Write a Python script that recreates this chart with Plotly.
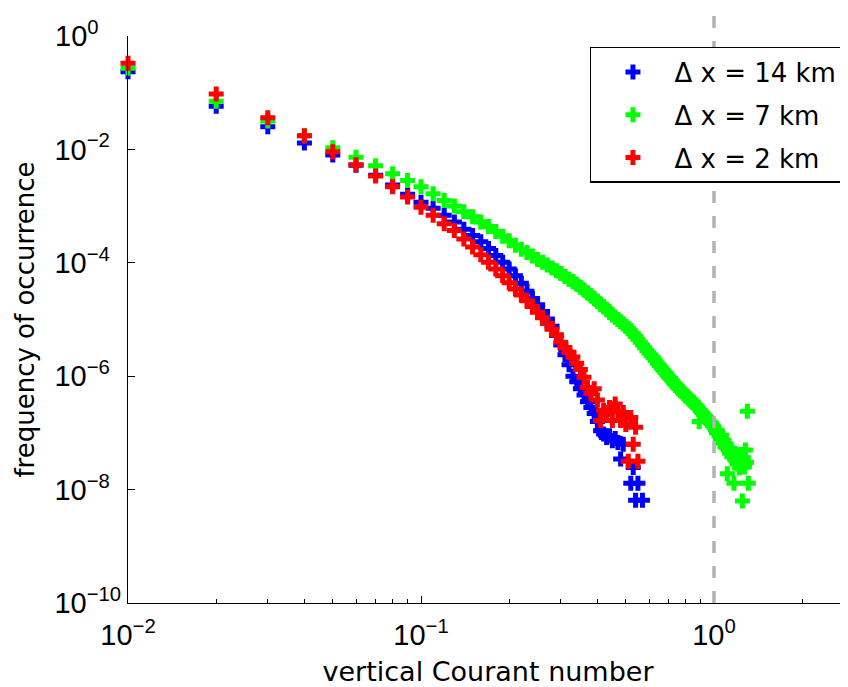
import plotly.graph_objects as go

# Courant-number bins (bin width 0.01)
courant_bins = [round(0.01 * k, 2) for k in range(1, 132)]

# log10(frequency of occurrence) (None = empty bin)
log_freq_14km = [
    -0.63, -1.24, -1.60, -1.885, -2.10, -2.28, -2.455, -2.63, -2.79, -2.93,
    -3.04, -3.16, -3.28, -3.41, -3.52, -3.63, -3.75, -3.87, -3.99, -4.11,
    -4.23, -4.36, -4.50, -4.63, -4.74, -4.86, -4.99, -5.12, -5.28, -5.45,
    -5.62, -5.80, -6.00, -6.10, -6.22, -6.33, -6.45, -6.55, -6.66, -6.80,
    -6.96, -7.02, -7.08, -7.05, -7.14, -7.10, -7.17, -7.46, -7.20, None,
    None, -7.89, -7.61, -8.19, -7.89, None, -8.19,
]

log_freq_7km = [
    -0.57, -1.15, -1.50, -1.76, -1.97, -2.14, -2.29, -2.43, -2.55, -2.66,
    -2.78, -2.90, -3.00, -3.10, -3.19, -3.28, -3.36, -3.45, -3.53, -3.61,
    -3.69, -3.76, -3.82, -3.88, -3.94, -3.99, -4.04, -4.09, -4.14, -4.19,
    -4.24, -4.29, -4.33, -4.38, -4.43, -4.48, -4.53, -4.58, -4.63, -4.68,
    -4.73, -4.77, -4.82, -4.87, -4.92, -4.96, -5.00, -5.04, -5.08, -5.12,
    -5.16, -5.20, -5.25, -5.30, -5.35, -5.40, -5.45, -5.50, -5.55, -5.59,
    -5.63, -5.67, -5.72, -5.77, -5.81, -5.85, -5.89, -5.93, -5.97, -6.01,
    -6.04, -6.08, -6.12, -6.15, -6.19, -6.22, -6.25, -6.28, -6.31, -6.34,
    -6.36, -6.39, -6.42, -6.44, -6.47, -6.50, -6.52, -6.55, -6.80, -6.61,
    -6.64, -6.67, -6.70, -6.73, -6.75, -6.78, -6.81, -6.84, -6.87, -6.90,
    -6.95, -7.00, -6.97, -7.05, -7.10, -7.04, -7.18, -7.13, -7.25, -7.20,
    -7.72, -7.30, -7.36, -7.28, -7.42, -7.35, -7.89, -7.48, -7.40, -7.55,
    -7.45, -7.62, -7.38, -7.50, -8.20, -7.44, -7.60, -7.30, -7.52, -6.62,
    -7.89,
]

log_freq_2km = [
    -0.48, -1.025, -1.44, -1.76, -2.04, -2.27, -2.47, -2.66, -2.84, -3.02,
    -3.16, -3.31, -3.43, -3.58, -3.72, -3.86, -3.99, -4.11, -4.23, -4.35,
    -4.46, -4.57, -4.67, -4.77, -4.87, -4.97, -5.07, -5.17, -5.27, -5.40,
    -5.50, -5.58, -5.66, -5.77, -5.88, -6.02, -6.20, -6.30, -6.22, -6.42,
    -6.78, -6.60, -6.67, -6.55, -6.78, -6.49, -6.62, -6.78, -6.64, -6.85,
    -7.50, -6.73, -7.20, -6.90, -7.50,
]

series_names = ["\u0394 x = 14 km", "\u0394 x = 7 km", "\u0394 x = 2 km"]
series_colors = ["#0000ff", "#00ff00", "#ff0000"]
series_logs = [log_freq_14km, log_freq_7km, log_freq_2km]

NB = "\u00a0"
x_major = [0.01, 0.1, 1]
x_major_text = ["10<sup>\u22122</sup>", "10<sup>\u22121</sup>", "10<sup>0</sup>"]
x_minor = [0.02, 0.03, 0.04, 0.05, 0.06, 0.07, 0.08, 0.09,
           0.2, 0.3, 0.4, 0.5, 0.6, 0.7, 0.8, 0.9, 2]
y_major = [1e-10, 1e-8, 1e-6, 1e-4, 1e-2, 1]
# trailing no-break spaces keep the labels left-aligned as in the original
y_major_text = ["10<sup>\u221210</sup>",
                "10<sup>\u22128" + NB * 2 + "</sup>",
                "10<sup>\u22126" + NB * 2 + "</sup>",
                "10<sup>\u22124" + NB * 2 + "</sup>",
                "10<sup>\u22122" + NB * 2 + "</sup>",
                "10<sup>0" + NB * 4 + "</sup>"]
courant_limit = 1.0

fig = go.Figure()
for name, color, logs in zip(series_names, series_colors, series_logs):
    xs = courant_bins[:len(logs)]
    ys = [None if v is None else 10 ** v for v in logs]
    fig.add_trace(go.Scatter(
        x=xs, y=ys, mode="markers", name=name, legendgroup=name,
        marker=dict(symbol="cross", size=12.5, color=color, line=dict(width=0)),
        cliponaxis=False,
    ))

fig.add_shape(type="line", xref="x", yref="paper", x0=courant_limit, x1=courant_limit,
              y0=0, y1=1.07, line=dict(color="#b3b3b3", width=3.5, dash="12px,13px"),
              layer="above")

tick_font = dict(family="Liberation Sans, Arial, sans-serif", size=29, color="black")

fig.update_layout(
    width=840, height=679,
    margin=dict(l=120, r=0, t=28, b=84, pad=0),
    paper_bgcolor="white", plot_bgcolor="white",
    showlegend=True,
    legend=dict(
        x=0.993, xanchor="right", y=0.9806, yanchor="top",
        bgcolor="white", bordercolor="black", borderwidth=1.5,
        font=dict(family="DejaVu Sans, sans-serif", size=26, color="black"),
        itemwidth=73, tracegroupgap=6,
    ),
    xaxis=dict(
        type="log", range=[-2, 0.4573],
        showline=True, linecolor="black", linewidth=1.2, mirror=False,
        showgrid=False, zeroline=False,
        ticks="inside", ticklen=7, tickwidth=1, tickcolor="black",
        tickmode="array", tickvals=x_major, ticktext=x_major_text,
        tickfont=tick_font, ticklabelstandoff=6,
        minor=dict(tickmode="array", tickvals=x_minor, ticks="inside",
                   ticklen=4, tickwidth=1, tickcolor="black", showgrid=False),
        title=dict(text="vertical Courant number",
                   font=dict(family="DejaVu Sans, sans-serif", size=27, color="black"),
                   standoff=14),
    ),
    yaxis=dict(
        type="log", range=[-10, 0],
        showline=True, linecolor="black", linewidth=1.2, mirror=False,
        showgrid=False, zeroline=False,
        ticks="inside", ticklen=7, tickwidth=1, tickcolor="black",
        tickmode="array", tickvals=y_major, ticktext=y_major_text,
        tickfont=tick_font,
        title=dict(text="frequency of occurrence",
                   font=dict(family="DejaVu Sans, sans-serif", size=26, color="black"),
                   standoff=12),
    ),
)

fig.write_html("out.html")
